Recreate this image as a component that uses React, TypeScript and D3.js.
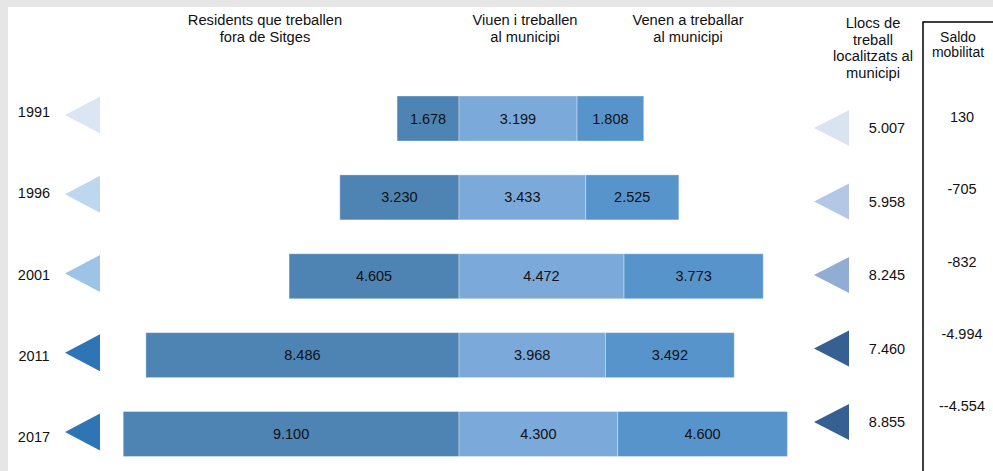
import React from "react";
import * as d3 from "d3";

const years = ["1991", "1996", "2001", "2011", "2017"];
const residentsOut = [1678, 3230, 4605, 8486, 9100];
const liveWork = [3199, 3433, 4472, 3968, 4300];
const commuteIn = [1808, 2525, 3773, 3492, 4600];
const jobs = [5007, 5958, 8245, 7460, 8855];
const saldoLabels = ["130", "-705", "-832", "-4.994", "--4.554"];
const leftTriColors = ["#dbe6f2", "#bdd7ee", "#9dc3e6", "#2e75b6", "#2e75b6"];
const rightTriColors = ["#dae3f0", "#b4c7e4", "#92add3", "#365f92", "#365f92"];

const headerResidents = ["Residents que treballen", "fora de Sitges"];
const headerLive = ["Viuen i treballen", "al municipi"];
const headerIn = ["Venen a treballar", "al municipi"];
const headerJobs = ["Llocs de", "treball", "localitzats al", "municipi"];
const headerSaldo = ["Saldo", "mobilitat"];

const W = 993;
const H = 471;
const FONT = "'Liberation Sans', Arial, sans-serif";

const fmt = (v: number) => d3.format(",")(v).replace(/,/g, ".");

export default function App() {
  const xLen = d3.scaleLinear().domain([0, 10000]).range([0, 369]);
  const cx = 459;
  const rowY = d3.scalePoint<string>().domain(years).range([118.5, 434]);
  const leftY = d3.scalePoint<string>().domain(years).range([115, 432]);
  const yearY = d3.scalePoint<string>().domain(years).range([112, 437]);
  const jobsY = d3.scalePoint<string>().domain(years).range([128, 422]);
  const saldoY = d3.scalePoint<string>().domain(years).range([117, 406]);
  const barH = 45;

  const segColors = ["#4e84b4", "#7ba9d9", "#5894cc"];
  const segStroke = "rgba(255,255,255,0.35)";

  const tri = (tipX: number, cy: number, w: number, h: number) =>
    `M${tipX},${cy} L${tipX + w},${cy - h / 2} L${tipX + w},${cy + h / 2} Z`;

  const header = (lines: string[], x: number, y0: number, dy: number, size = 14.7) => (
    <text x={x} textAnchor="middle" fontSize={size} fontFamily={FONT} fill="#111">
      {lines.map((l, i) => (
        <tspan key={i} x={x} y={y0 + i * dy}>
          {l}
        </tspan>
      ))}
    </text>
  );

  return (
    <svg
      width={W}
      height={H}
      style={{ position: "absolute", left: 0, top: 0, display: "block" }}
    >
      <rect x={0} y={0} width={W} height={H} fill="#e6e6e6" />
      <rect x={8} y={7} width={W - 8} height={H - 7} fill="#ffffff" />

      {header(headerResidents, 265, 25, 17)}
      {header(headerLive, 525, 25, 17)}
      {header(headerIn, 688, 25, 17)}
      {header(headerJobs, 873, 28, 16.5)}
      {header(headerSaldo, 958, 42, 15, 14)}

      <path d={`M923,${H + 2} L923,22 L${W + 2},22`} fill="none" stroke="#000" strokeWidth={1.5} />

      {years.map((yr, i) => {
        const c = rowY(yr)!;
        const top = c - barH / 2;
        const lw = xLen(residentsOut[i]);
        const mw = xLen(liveWork[i]);
        const rw = xLen(commuteIn[i]);
        const segs = [
          { x: cx - lw, w: lw, v: residentsOut[i] },
          { x: cx, w: mw, v: liveWork[i] },
          { x: cx + mw, w: rw, v: commuteIn[i] },
        ];
        return (
          <g key={yr}>
            {segs.map((s, j) => (
              <g key={j}>
                <rect x={s.x} y={top} width={s.w} height={barH} fill={segColors[j]} stroke={segStroke} strokeWidth={1} />
                <text
                  x={s.x + s.w / 2}
                  y={c + 5}
                  textAnchor="middle"
                  fontSize={14.5}
                  fontFamily={FONT}
                  fill="#111"
                >
                  {fmt(s.v)}
                </text>
              </g>
            ))}
            <text x={34} y={yearY(yr)! + 5} textAnchor="middle" fontSize={14.5} fontFamily={FONT} fill="#111">
              {yr}
            </text>
            <path d={tri(65, leftY(yr)!, 35, 37)} fill={leftTriColors[i]} />
            <path d={tri(814, jobsY(yr)!, 35, 36)} fill={rightTriColors[i]} />
            <text x={887} y={jobsY(yr)! + 5} textAnchor="middle" fontSize={14.5} fontFamily={FONT} fill="#111">
              {fmt(jobs[i])}
            </text>
            <text x={962} y={saldoY(yr)! + 5} textAnchor="middle" fontSize={14.5} fontFamily={FONT} fill="#111">
              {saldoLabels[i]}
            </text>
          </g>
        );
      })}
    </svg>
  );
}
